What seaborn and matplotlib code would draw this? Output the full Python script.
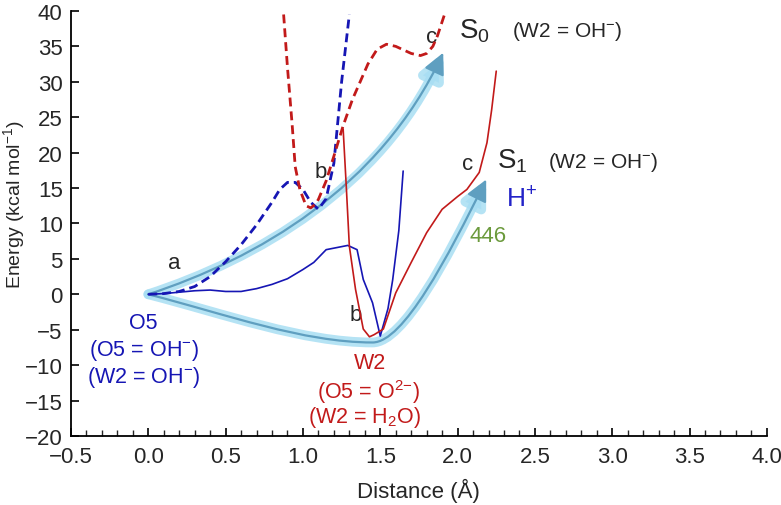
import seaborn as sns
import matplotlib.pyplot as plt
import matplotlib.ticker as mticker
from matplotlib.patches import FancyArrowPatch
from matplotlib.path import Path

# S1 surfaces (solid) and S0 surfaces (dashed)
o5_s1_x = [0.0, 0.1, 0.2, 0.3, 0.4, 0.5, 0.6, 0.7, 0.8, 0.9, 1.0, 1.07, 1.15, 1.22, 1.29, 1.35,
           1.39, 1.45, 1.5, 1.55, 1.58, 1.62, 1.648]
o5_s1_y = [0.0, 0.1, 0.3, 0.5, 0.6, 0.4, 0.4, 0.8, 1.4, 2.2, 3.5, 4.5, 6.3, 6.6, 6.9, 6.3,
           2.1, -1.2, -5.9, -2.0, 2.0, 9.0, 17.4]
w2_s1_x = [1.26, 1.28, 1.30, 1.34, 1.39, 1.43, 1.46, 1.52, 1.6, 1.7, 1.8, 1.9, 2.0, 2.06,
           2.14, 2.19, 2.22, 2.25]
w2_s1_y = [23.3, 15.3, 6.8, 0.7, -4.9, -6.0, -5.7, -4.9, 0.2, 4.5, 8.7, 12.0, 13.8, 14.8,
           17.2, 21.4, 26.0, 31.5]
o5_s0_x = [0.0, 0.1, 0.2, 0.3, 0.4, 0.5, 0.6, 0.7, 0.8, 0.85, 0.9, 0.95, 1.0, 1.05, 1.1,
           1.15, 1.2, 1.25, 1.3]
o5_s0_y = [0.0, 0.1, 0.4, 1.1, 2.5, 4.6, 7.0, 9.8, 13.0, 14.8, 15.8, 15.8, 14.8, 13.0, 12.0,
           13.5, 18.5, 30.0, 39.5]
w2_s0_x = [0.875, 0.9, 0.93, 0.95, 0.98, 1.02, 1.05, 1.08, 1.1, 1.15, 1.2, 1.26, 1.32, 1.37,
           1.42, 1.48, 1.54, 1.6, 1.65, 1.7, 1.76, 1.8, 1.84, 1.87, 1.92]
w2_s0_y = [39.5, 32.0, 24.0, 18.0, 14.8, 12.5, 12.2, 12.7, 13.4, 16.0, 19.5, 23.8, 27.5, 30.0,
           32.5, 34.6, 35.3, 35.0, 34.5, 34.0, 33.7, 34.0, 35.0, 36.5, 39.8]

# guide arrows as bezier control points (start, ctrl, ctrl, end, ...)
s0_arrow = [(0.0, 0.0), (0.7, 5.0), (1.5, 15.0), (1.907, 34.1)]
s1_arrow = [(0.0, 0.0), (0.5, -2.8), (1.0, -6.8), (1.45, -6.8),
            (1.65, -6.8), (1.935, 5.2), (2.185, 16.2)]

blue = "#1616b4"
red = "#c21a1a"
glow = "#a8def3"
steel = "#5f9fc0"

sns.set_style("ticks")
plt.rcParams["font.family"] = ["Liberation Sans", "DejaVu Sans"]
plt.rcParams["mathtext.fontset"] = "custom"
plt.rcParams["mathtext.rm"] = "Liberation Sans"
plt.rcParams["mathtext.it"] = "Liberation Sans"

fig = plt.figure(figsize=(7.81, 5.06), dpi=100)
ax = fig.add_axes([0.0909, 0.1364, 0.891, 0.84])

# arrows first so the curves sit on top
for pts in [s0_arrow, s1_arrow]:
    codes = [Path.MOVETO] + [Path.CURVE4] * (len(pts) - 1)
    for lw, col, al, z in [(7, glow, 0.85, 1), (1.6, steel, 1.0, 2)]:
        arr = FancyArrowPatch(path=Path(pts, codes),
                              arrowstyle="-|>,head_length=0.65,head_width=0.32",
                              mutation_scale=20, color=col, lw=lw, alpha=al,
                              shrinkA=0, shrinkB=0, zorder=z, joinstyle="round",
                              capstyle="round")
        ax.add_patch(arr)

sns.lineplot(x=o5_s1_x, y=o5_s1_y, color=blue, lw=1.2, sort=False, ax=ax, zorder=4)
sns.lineplot(x=w2_s1_x, y=w2_s1_y, color=red, lw=1.2, sort=False, ax=ax, zorder=4)
sns.lineplot(x=o5_s0_x, y=o5_s0_y, color=blue, lw=2.0, sort=False, ax=ax, zorder=4,
             dashes=False, linestyle=(0, (3.2, 1.8)))
sns.lineplot(x=w2_s0_x, y=w2_s0_y, color=red, lw=2.0, sort=False, ax=ax, zorder=4,
             dashes=False, linestyle=(0, (3.2, 1.8)))

ax.set_xlim(-0.5, 4.0)
ax.set_ylim(-20, 40)
ax.xaxis.set_major_locator(mticker.MultipleLocator(0.5))
ax.xaxis.set_minor_locator(mticker.MultipleLocator(0.1))
ax.yaxis.set_major_locator(mticker.MultipleLocator(5))
ax.xaxis.set_major_formatter(mticker.FuncFormatter(lambda v, p: f"{v:.1f}".replace("-", "\u2212")))
ax.yaxis.set_major_formatter(mticker.FuncFormatter(lambda v, p: f"{v:.0f}".replace("-", "\u2212")))
ax.tick_params(axis="both", which="major", direction="in", length=6, width=1.2,
               labelsize=16, color="black")
ax.tick_params(axis="x", which="minor", direction="in", length=4, width=1.0)
ax.tick_params(axis="x", pad=7)
ax.tick_params(axis="y", pad=6)
sns.despine(ax=ax)
for s in ["left", "bottom"]:
    ax.spines[s].set_linewidth(1.3)
    ax.spines[s].set_color("black")

ax.set_xlabel("Distance (Å)", fontsize=16, labelpad=8)
ax.set_ylabel("Energy (kcal mol$^{-1}$)", fontsize=14)
ax.yaxis.set_label_coords(-0.063, 0.546)

# annotations
for tx, ty, s in [(0.167, 4.5, "a"), (1.117, 17.4, "b"), (1.342, -2.8, "b"),
                  (1.83, 36.4, "c"), (2.067, 18.5, "c")]:
    ax.text(tx, ty, s, fontsize=16, ha="center", va="center")
ax.text(2.01, 36.2, "S$_0$", fontsize=20, ha="left", va="baseline")
ax.text(2.35, 36.4, "(W2 = OH$^{-}$)", fontsize=15, ha="left", va="baseline")
ax.text(2.254, 17.9, "S$_1$", fontsize=20, ha="left", va="baseline")
ax.text(2.583, 17.9, "(W2 = OH$^{-}$)", fontsize=15, ha="left", va="baseline")
ax.text(2.31, 12.4, "H$^{+}$", fontsize=19, color="#2323c8", ha="left", va="baseline")
ax.text(2.08, 7.5, "446", fontsize=16, color="#6b9a3c", ha="left", va="baseline")

ax.text(-0.03, -4.0, "O5", fontsize=15.5, color=blue, ha="center", va="center")
ax.text(-0.028, -7.8, "(O5 = OH$^{-}$)", fontsize=15.5, color=blue, ha="center", va="center")
ax.text(-0.028, -11.6, "(W2 = OH$^{-}$)", fontsize=15.5, color=blue, ha="center", va="center")
ax.text(1.433, -9.6, "W2", fontsize=15.5, color=red, ha="center", va="center")
ax.text(1.42, -13.7, "(O5 = O$^{2{-}}$)", fontsize=15.5, color=red, ha="center", va="center")
ax.text(1.40, -17.2, "(W2 = H$_2$O)", fontsize=15.5, color=red, ha="center", va="center")

plt.savefig("out.png", dpi=100)
